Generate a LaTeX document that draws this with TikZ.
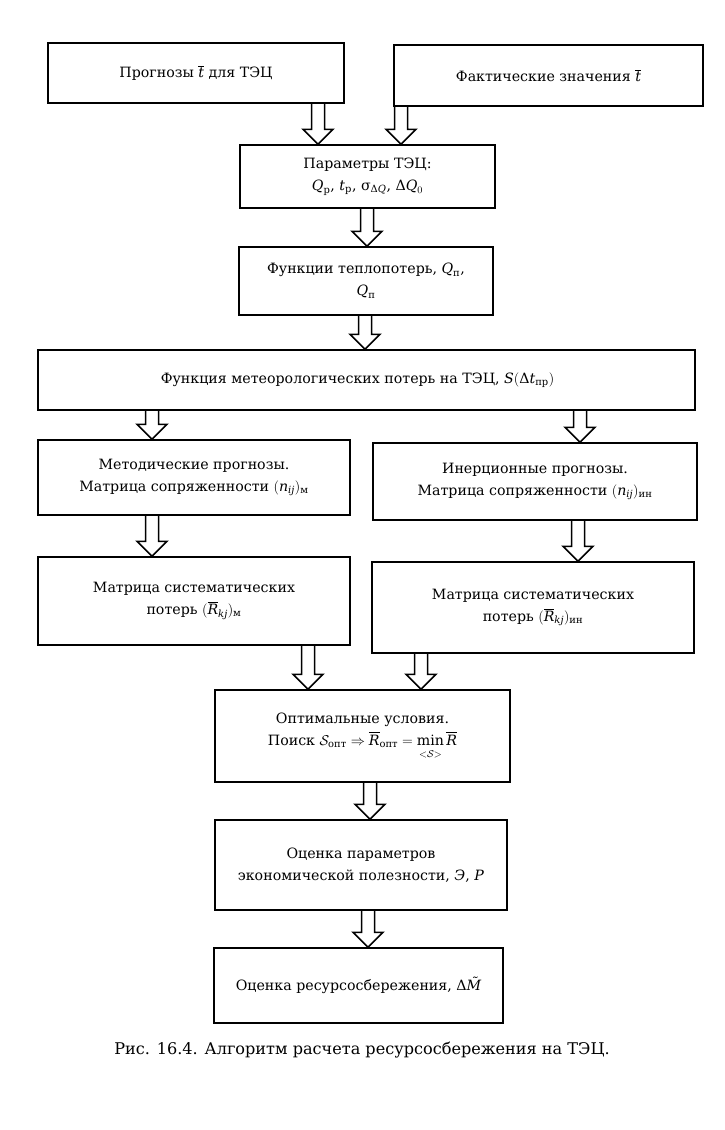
\RequirePackage{fix-cm}
\documentclass[tikz,border=0pt]{standalone}
\usepackage{amsmath}
\usepackage{fontspec}
\setmainfont{DejaVu Serif}
\usetikzlibrary{calc}
\newcommand\mv[1]{\textit{#1}}
\newcommand\sub[1]{\text{#1}}
\tikzset{
  box/.style={draw, line width=1.5pt, inner sep=0pt, align=center,
    font=\fontsize{14.2}{22}\selectfont},
  arrline/.style={line width=1.5pt, line join=miter},
  capt/.style={font=\fontsize{16.1}{20}\selectfont}
}
% hollow block arrow: #1 x (pt), #2 source node, #3 target node
\newcommand\harr[3]{%
  \draw[arrline] let \p1=(#2.south), \p2=(#3.north) in
    (#1pt-6.5pt,\y1) -- (#1pt-6.5pt,\y2+15pt) -- (#1pt-15pt,\y2+15pt) --
    (#1pt,\y2) -- (#1pt+15pt,\y2+15pt) -- (#1pt+6.5pt,\y2+15pt) -- (#1pt+6.5pt,\y1);}
\begin{document}
\begin{tikzpicture}[x=1pt,y=-1pt]
\useasboundingbox (0,0) rectangle (724,1130);
\node[box, minimum width=296pt, minimum height=60pt] (b1) at (196,73)
  {Прогнозы $\overline{\mv{t}}$ для ТЭЦ};
\node[box, minimum width=309pt, minimum height=61pt] (b2) at (548.5,75.5)
  {Фактические значения $\overline{\mv{t}}$};
\node[box, minimum width=255pt, minimum height=63pt] (b3) at (367.5,176.5)
  {Параметры ТЭЦ:\\ $\mv{Q}_\sub{р}$, $\mv{t}_\sub{р}$, $\text{σ}_{\text{Δ}\mv{Q}}$, $\text{Δ}\mv{Q}_0$};
\node[box, minimum width=254pt, minimum height=68pt] (b4) at (366,281)
  {Функции теплопотерь, $\mv{Q}_\sub{п}$,\\ $\mv{Q}_\sub{п}$};
\node[box, minimum width=657pt, minimum height=60pt] (b5) at (366.5,380)
  {Функция метеорологических потерь на ТЭЦ, $\mv{S}(\text{Δ}\mv{t}_\sub{пр})$\hspace*{18pt}};
\node[box, minimum width=312pt, minimum height=75pt] (b6) at (194,477.5)
  {Методические прогнозы.\\ Матрица сопряженности $(\mv{n}_{\mv{ij}})_\sub{м}$};
\node[box, minimum width=324pt, minimum height=77pt] (b7) at (535,481.5)
  {Инерционные прогнозы.\\ Матрица сопряженности $(\mv{n}_{\mv{ij}})_\sub{ин}$};
\node[box, minimum width=312pt, minimum height=88pt] (b8) at (194,601)
  {Матрица систематических\\ потерь $(\overline{\mv{R}}_{\mv{kj}})_\sub{м}$};
\node[box, minimum width=322pt, minimum height=91pt] (b9) at (533,607.5)
  {Матрица систематических\\ потерь $(\overline{\mv{R}}_{\mv{kj}})_\sub{ин}$};
\node[box, minimum width=295pt, minimum height=92pt] (b10) at (362.5,736)
  {Оптимальные условия.\\ Поиск $\mathcal{S}_\sub{опт}\Rightarrow\overline{\mv{R}}_\sub{опт}=\mathop{\text{min}}\limits_{\rule{0pt}{10pt}<\mathcal{S}>}\overline{\mv{R}}$};
\node[box, minimum width=292pt, minimum height=90pt] (b11) at (361,865)
  {Оценка параметров\\ экономической полезности, \textit{Э}, \textit{P}};
\node[box, minimum width=289pt, minimum height=75pt] (b12) at (358.5,985.5)
  {Оценка ресурсосбережения, Δ\textit{M^^^^0303}};
\node[capt] (cap) at (362,1050) {Рис. 16.4. Алгоритм расчета ресурсосбережения на ТЭЦ.};
\harr{318}{b1}{b3}
\harr{401}{b2}{b3}
\harr{367}{b3}{b4}
\harr{365}{b4}{b5}
\harr{152}{b5}{b6}
\harr{580}{b5}{b7}
\harr{152}{b6}{b8}
\harr{578}{b7}{b9}
\harr{308}{b8}{b10}
\harr{421}{b9}{b10}
\harr{370}{b10}{b11}
\harr{368}{b11}{b12}
\end{tikzpicture}
\end{document}
